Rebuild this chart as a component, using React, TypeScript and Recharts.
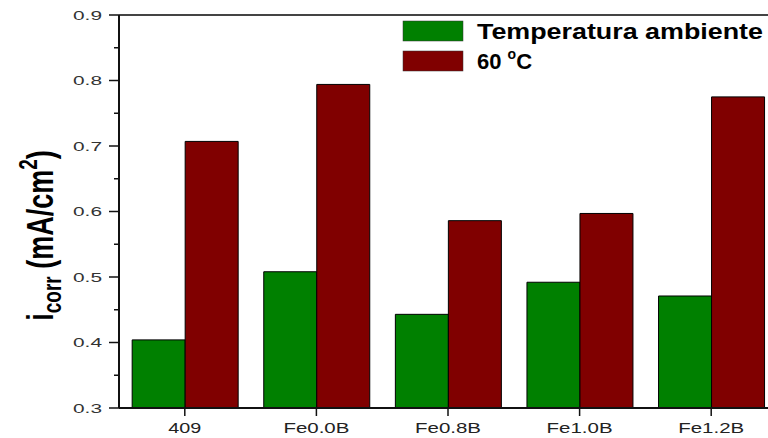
import React from 'react';
import { BarChart, Bar, XAxis, YAxis, Legend, ReferenceLine } from 'recharts';

const categories = ['409', 'Fe0.0B', 'Fe0.8B', 'Fe1.0B', 'Fe1.2B'];
const ambientValues = [0.404, 0.508, 0.443, 0.492, 0.471];
const hotValues = [0.707, 0.794, 0.586, 0.597, 0.775];
const majorTicks = [0.3, 0.4, 0.5, 0.6, 0.7, 0.8, 0.9];
const minorTicks = [0.35, 0.45, 0.55, 0.65, 0.75, 0.85];
const seriesKeys = ['ambient', 'hot'];

const data = categories.map((name, i) => ({
  name,
  ambient: ambientValues[i],
  hot: hotValues[i],
}));

const FONT = '"Liberation Sans", Arial, sans-serif';

function YTick(props: any) {
  const { x, y, payload } = props;
  const major = majorTicks.includes(payload.value);
  return (
    <g>
      <line x1={x - (major ? 10 : 5)} x2={x} y1={y} y2={y} stroke="#111" strokeWidth={1.5} />
      {major && (
        <text
          x={x - 17}
          y={y}
          dy="0.36em"
          textAnchor="end"
          fontSize={13}
          fill="#333"
          fontFamily={FONT}
          textLength={29}
          lengthAdjust="spacingAndGlyphs"
        >
          {payload.value.toFixed(1)}
        </text>
      )}
    </g>
  );
}

function XTick(props: any) {
  const { x, y, payload } = props;
  const label = String(payload.value);
  return (
    <g>
      <line x1={x} x2={x} y1={y} y2={y + 8} stroke="#111" strokeWidth={1.5} />
      <text
        x={x}
        y={y + 14}
        dy="0.71em"
        textAnchor="middle"
        fontSize={15}
        fill="#222"
        fontFamily={FONT}
        textLength={label.length * 11}
        lengthAdjust="spacingAndGlyphs"
      >
        {label}
      </text>
    </g>
  );
}

function YLabel(props: any) {
  const { viewBox } = props;
  const cx = viewBox.x + 53;
  const cy = viewBox.y + viewBox.height / 2 + 24;
  return (
    <g transform={`translate(${cx},${cy}) rotate(-90) scale(1,1.35)`}>
      <text x={0} y={0} textAnchor="middle" fontSize={27} fontWeight="bold" fill="#000" fontFamily={FONT}>
        i
        <tspan fontSize={19} dy={6}>corr</tspan>
        <tspan dy={-6}> (mA/cm</tspan>
        <tspan fontSize={19} dy={-12}>2</tspan>
        <tspan dy={12}>)</tspan>
      </text>
    </g>
  );
}

function LegendBox(props: any) {
  const items = [...(props.payload || [])].sort(
    (a: any, b: any) => seriesKeys.indexOf(a.dataKey) - seriesKeys.indexOf(b.dataKey)
  );
  return (
    <svg width={420} height={80} style={{ display: 'block' }}>
      {items.map((p: any, i: number) => (
        <g key={p.dataKey}>
          <rect x={3} y={21 + i * 30} width={60} height={20} fill={p.color} stroke="#333" strokeWidth={0.5} />
          {i === 0 ? (
            <text
              x={77}
              y={39 + i * 30}
              fontSize={22}
              fontWeight="bold"
              fill="#000"
              fontFamily={FONT}
              textLength={286}
              lengthAdjust="spacingAndGlyphs"
            >
              {p.value}
            </text>
          ) : (
            <text x={77} y={39 + i * 30} fontSize={22} fontWeight="bold" fill="#000" fontFamily={FONT}>
              60 <tspan fontSize={14} dy={-10}>o</tspan>
              <tspan dy={10}>C</tspan>
            </text>
          )}
        </g>
      ))}
    </svg>
  );
}

export default function App() {
  return (
    <div
      style={{
        position: 'absolute',
        left: 0,
        top: 0,
        width: 768,
        height: 438,
        overflow: 'hidden',
        background: '#fff',
      }}
    >
      <BarChart
        width={790}
        height={438}
        data={data}
        margin={{ top: 15, right: 13, bottom: 0, left: 0 }}
        barCategoryGap="10%"
        barGap={0}
      >
        <XAxis
          dataKey="name"
          height={30}
          tick={<XTick />}
          tickLine={false}
          tickSize={0}
          tickMargin={0}
          axisLine={{ stroke: '#111', strokeWidth: 2 }}
          interval={0}
        />
        <YAxis
          width={119}
          domain={[0.3, 0.9]}
          ticks={[...majorTicks, ...minorTicks].sort((a, b) => a - b)}
          allowDataOverflow
          tick={<YTick />}
          tickLine={false}
          tickSize={0}
          tickMargin={0}
          axisLine={{ stroke: '#111', strokeWidth: 2 }}
          interval={0}
          label={<YLabel />}
        />
        <ReferenceLine y={0.9} stroke="#444" strokeWidth={2} />
        <Legend
          content={<LegendBox />}
          layout="horizontal"
          verticalAlign="middle"
          align="center"
          wrapperStyle={{ position: 'absolute', left: 400, top: 0, width: 420, height: 80 }}
        />
        <Bar
          dataKey="ambient"
          name="Temperatura ambiente"
          fill="#008000"
          stroke="#000"
          strokeWidth={1}
          isAnimationActive={false}
        />
        <Bar
          dataKey="hot"
          name="60 °C"
          fill="#800000"
          stroke="#000"
          strokeWidth={1}
          isAnimationActive={false}
        />
      </BarChart>
    </div>
  );
}
